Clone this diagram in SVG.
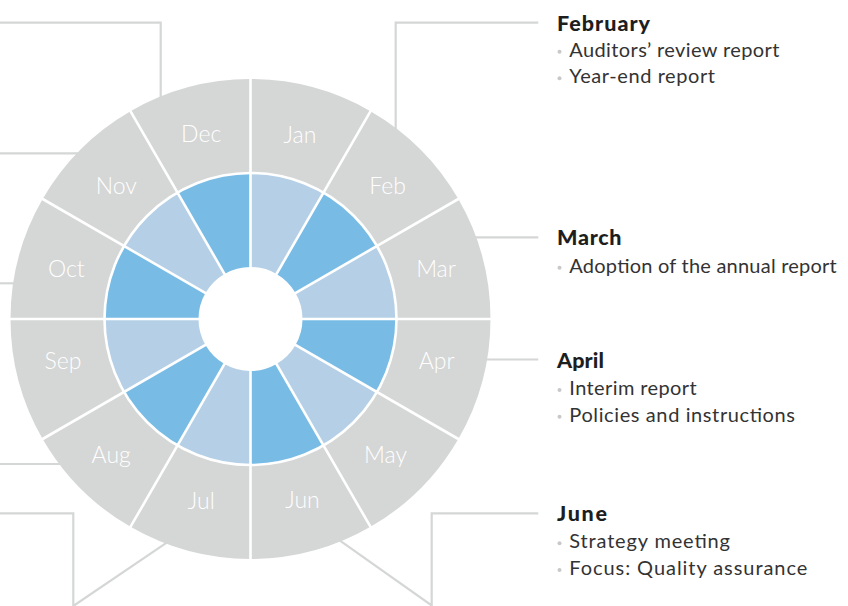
<svg xmlns="http://www.w3.org/2000/svg" width="848" height="606" viewBox="0 0 848 606">
  <style>
    .conn { fill: none; stroke: #d5d6d6; stroke-width: 2.2; }
    .ring { fill: #d5d6d6; }
    .light { fill: #b5d0e6; }
    .dark { fill: #78bce6; }
    .divider { fill: none; stroke: #ffffff; stroke-width: 2.6; }
    .mlabel { font-family: Lato, "Open Sans", "Liberation Sans", sans-serif; font-weight: 300; font-size: 23px; fill: #ffffff; text-anchor: middle; }
    .head { font-family: Lato, "Open Sans", "Liberation Sans", sans-serif; font-weight: 900; font-size: 21.5px; fill: #1e1e1e; }
    .item { font-family: Lato, "Open Sans", "Liberation Sans", sans-serif; font-weight: 400; font-size: 20px; fill: #333333; }
    .dot { fill: #c8c8c8; }
  </style>

  <!-- leader lines (drawn first so the wheel covers their ends) -->
  <g id="connectors">
    <polyline class="conn" points="0,22.7 160.7,22.7 160.7,110"/>
    <polyline class="conn" points="0,153.3 90,153.3"/>
    <polyline class="conn" points="0,283.3 25,283.3"/>
    <polyline class="conn" points="0,464 70,464"/>
    <polyline class="conn" points="0,513.3 73.3,513.3 73.3,606 173,538.4"/>
    <polyline class="conn" points="329.7,533.3 431.7,605.5 431.7,513.3 538.3,513.3"/>
    <polyline class="conn" points="480,359.5 538.3,359.5"/>
    <polyline class="conn" points="470,237.3 538.3,237.3"/>
    <polyline class="conn" points="395.7,140 395.7,22.7 538.3,22.7"/>
  </g>

  <!-- year wheel: one group per month (outer grey band + inner blue band + label) -->
  <g id="wheel">
    <g id="month-jan">
      <path class="ring" d="M250.5,79 A240,240 0 0 1 370.5,111.15 L323.5,192.56 A146,146 0 0 0 250.5,173 Z"/>
      <path class="light" d="M250.5,173 A146,146 0 0 1 323.5,192.56 L276.5,273.97 A52,52 0 0 0 250.5,267 Z"/>
      <text class="mlabel" x="300" y="142.5">Jan</text>
    </g>
    <g id="month-feb">
      <path class="ring" d="M370.5,111.15 A240,240 0 0 1 458.35,199 L376.94,246 A146,146 0 0 0 323.5,192.56 Z"/>
      <path class="dark" d="M323.5,192.56 A146,146 0 0 1 376.94,246 L295.53,293 A52,52 0 0 0 276.5,273.97 Z"/>
      <text class="mlabel" x="387.5" y="194.3">Feb</text>
    </g>
    <g id="month-mar">
      <path class="ring" d="M458.35,199 A240,240 0 0 1 490.5,319 L396.5,319 A146,146 0 0 0 376.94,246 Z"/>
      <path class="light" d="M376.94,246 A146,146 0 0 1 396.5,319 L302.5,319 A52,52 0 0 0 295.53,293 Z"/>
      <text class="mlabel" x="436" y="277.3">Mar</text>
    </g>
    <g id="month-apr">
      <path class="ring" d="M490.5,319 A240,240 0 0 1 458.35,439 L376.94,392 A146,146 0 0 0 396.5,319 Z"/>
      <path class="dark" d="M396.5,319 A146,146 0 0 1 376.94,392 L295.53,345 A52,52 0 0 0 302.5,319 Z"/>
      <text class="mlabel" x="436.7" y="369.3">Apr</text>
    </g>
    <g id="month-may">
      <path class="ring" d="M458.35,439 A240,240 0 0 1 370.5,526.85 L323.5,445.44 A146,146 0 0 0 376.94,392 Z"/>
      <path class="light" d="M376.94,392 A146,146 0 0 1 323.5,445.44 L276.5,364.03 A52,52 0 0 0 295.53,345 Z"/>
      <text class="mlabel" x="385.5" y="463.3">May</text>
    </g>
    <g id="month-jun">
      <path class="ring" d="M370.5,526.85 A240,240 0 0 1 250.5,559 L250.5,465 A146,146 0 0 0 323.5,445.44 Z"/>
      <path class="dark" d="M323.5,445.44 A146,146 0 0 1 250.5,465 L250.5,371 A52,52 0 0 0 276.5,364.03 Z"/>
      <text class="mlabel" x="302.5" y="508.3">Jun</text>
    </g>
    <g id="month-jul">
      <path class="ring" d="M250.5,559 A240,240 0 0 1 130.5,526.85 L177.5,445.44 A146,146 0 0 0 250.5,465 Z"/>
      <path class="light" d="M250.5,465 A146,146 0 0 1 177.5,445.44 L224.5,364.03 A52,52 0 0 0 250.5,371 Z"/>
      <text class="mlabel" x="201.3" y="508.8">Jul</text>
    </g>
    <g id="month-aug">
      <path class="ring" d="M130.5,526.85 A240,240 0 0 1 42.65,439 L124.06,392 A146,146 0 0 0 177.5,445.44 Z"/>
      <path class="dark" d="M177.5,445.44 A146,146 0 0 1 124.06,392 L205.47,345 A52,52 0 0 0 224.5,364.03 Z"/>
      <text class="mlabel" x="111.2" y="463.3">Aug</text>
    </g>
    <g id="month-sep">
      <path class="ring" d="M42.65,439 A240,240 0 0 1 10.5,319 L104.5,319 A146,146 0 0 0 124.06,392 Z"/>
      <path class="light" d="M124.06,392 A146,146 0 0 1 104.5,319 L198.5,319 A52,52 0 0 0 205.47,345 Z"/>
      <text class="mlabel" x="63" y="369.3">Sep</text>
    </g>
    <g id="month-oct">
      <path class="ring" d="M10.5,319 A240,240 0 0 1 42.65,199 L124.06,246 A146,146 0 0 0 104.5,319 Z"/>
      <path class="dark" d="M104.5,319 A146,146 0 0 1 124.06,246 L205.47,293 A52,52 0 0 0 198.5,319 Z"/>
      <text class="mlabel" x="66.3" y="277.3">Oct</text>
    </g>
    <g id="month-nov">
      <path class="ring" d="M42.65,199 A240,240 0 0 1 130.5,111.15 L177.5,192.56 A146,146 0 0 0 124.06,246 Z"/>
      <path class="light" d="M124.06,246 A146,146 0 0 1 177.5,192.56 L224.5,273.97 A52,52 0 0 0 205.47,293 Z"/>
      <text class="mlabel" x="116.2" y="194.3">Nov</text>
    </g>
    <g id="month-dec">
      <path class="ring" d="M130.5,111.15 A240,240 0 0 1 250.5,79 L250.5,173 A146,146 0 0 0 177.5,192.56 Z"/>
      <path class="dark" d="M177.5,192.56 A146,146 0 0 1 250.5,173 L250.5,267 A52,52 0 0 0 224.5,273.97 Z"/>
      <text class="mlabel" x="201.2" y="142.3">Dec</text>
    </g>

    <!-- white separators between sectors and between the two bands -->
    <g id="separators" class="divider">
      <path d="M250.5,78 V560 M371,110.29 L130,527.71 M459.21,198.5 L41.79,439.5 M491.5,319 H9.5 M459.21,439.5 L41.79,198.5 M371,527.71 L130,110.29"/>
      <circle cx="250.5" cy="319" r="146"/>
    </g>
  </g>

  <!-- notes on the right -->
  <g id="note-feb">
    <text class="head" x="557" y="30.5" textLength="93" lengthAdjust="spacing">February</text>
    <circle class="dot" cx="559.5" cy="51.7" r="2"/>
    <text class="item" x="569.3" y="56.7" textLength="210" lengthAdjust="spacing">Auditors’ review report</text>
    <circle class="dot" cx="559.5" cy="78.3" r="2"/>
    <text class="item" x="569.3" y="83.3" textLength="145.7" lengthAdjust="spacing">Year-end report</text>
  </g>
  <g id="note-mar">
    <text class="head" x="557" y="245" textLength="64.5" lengthAdjust="spacing">March</text>
    <circle class="dot" cx="559.5" cy="267.7" r="2"/>
    <text class="item" x="569.3" y="272.7" textLength="267.4" lengthAdjust="spacing">Adoption of the annual report</text>
  </g>
  <g id="note-apr">
    <text class="head" x="557" y="368.3" textLength="47" lengthAdjust="spacing">April</text>
    <circle class="dot" cx="559.5" cy="390" r="2"/>
    <text class="item" x="569.3" y="395" textLength="127.4" lengthAdjust="spacing">Interim report</text>
    <circle class="dot" cx="559.5" cy="416.7" r="2"/>
    <text class="item" x="569.3" y="421.7" textLength="225.7" lengthAdjust="spacing">Policies and instructions</text>
  </g>
  <g id="note-jun">
    <text class="head" x="557" y="520.7" textLength="50" lengthAdjust="spacing">June</text>
    <circle class="dot" cx="559.5" cy="543.3" r="2"/>
    <text class="item" x="569.3" y="548.3" textLength="160.7" lengthAdjust="spacing">Strategy meeting</text>
    <circle class="dot" cx="559.5" cy="570" r="2"/>
    <text class="item" x="569.3" y="575" textLength="238" lengthAdjust="spacing">Focus: Quality assurance</text>
  </g>
</svg>
